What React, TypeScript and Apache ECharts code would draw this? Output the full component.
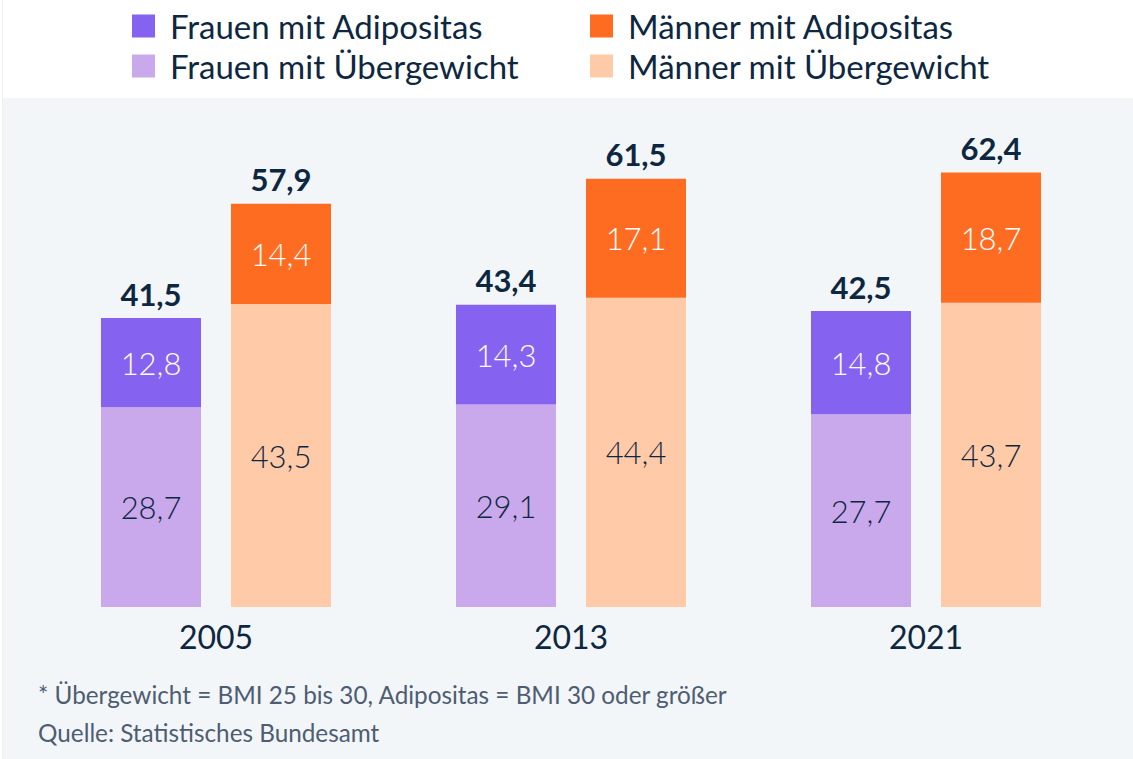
import React, { useEffect, useRef } from "react";
import * as echarts from "echarts";

const years = ["2005", "2013", "2021"];
const frauenUebergewicht = [28.7, 29.1, 27.7];
const frauenAdipositas = [12.8, 14.3, 14.8];
const maennerUebergewicht = [43.5, 44.4, 43.7];
const maennerAdipositas = [14.4, 17.1, 18.7];
const frauenGesamt = [41.5, 43.4, 42.5];
const maennerGesamt = [57.9, 61.5, 62.4];

const footnote = "* Übergewicht = BMI 25 bis 30, Adipositas = BMI 30 oder größer";
const source = "Quelle: Statistisches Bundesamt";

const NAVY = "#0e2741";
const FONT = "Lato, 'Open Sans', sans-serif";
const fmt = (v: number) => v.toFixed(1).replace(".", ",");

export default function App() {
  const ref = useRef<HTMLDivElement>(null);
  useEffect(() => {
    document.body.style.margin = "0";
    const chart = echarts.init(ref.current!, null, { renderer: "svg" });
    const segLabel = (color: string) => ({
      show: true,
      position: "inside" as const,
      color,
      fontSize: 31,
      fontWeight: 300,
      fontFamily: FONT,
      formatter: (p: any) => fmt(p.value),
    });
    const totalLabel = (totals: number[]) => ({
      show: true,
      position: "top" as const,
      distance: 9,
      color: NAVY,
      fontSize: 31,
      fontWeight: "bold" as const,
      fontFamily: FONT,
      formatter: (p: any) => fmt(totals[p.dataIndex]),
    });
    const legendBase = {
      orient: "vertical" as const,
      top: 9.5,
      padding: 0,
      itemWidth: 23,
      itemHeight: 23,
      itemGap: 7,
      icon: "rect",
      selectedMode: false,
      textStyle: {
        fontSize: 33,
        color: NAVY,
        fontFamily: FONT,
        padding: [0, 0, 0, 10],
      },
    };
    chart.setOption({
      animation: false,
      backgroundColor: "#ffffff",
      graphic: [
        { type: "rect", z: -10, shape: { x: 2, y: 98, width: 1131, height: 661 }, style: { fill: "#f2f6f9" } },
        { type: "line", z: -9, shape: { x1: 2.5, y1: 0, x2: 2.5, y2: 759 }, style: { stroke: "#eceff2", lineWidth: 1 } },
        { type: "text", left: 38, top: 682, style: { text: footnote, fontSize: 24.3, fill: "#4e5d72", fontFamily: FONT } },
        { type: "text", left: 38, top: 720, style: { text: source, fontSize: 24.3, fill: "#4e5d72", fontFamily: FONT } },
      ],
      legend: [
        { ...legendBase, left: 132, data: ["Frauen mit Adipositas", "Frauen mit Übergewicht"] },
        { ...legendBase, left: 590, data: ["Männer mit Adipositas", "Männer mit Übergewicht"] },
      ],
      grid: { left: 38.5, right: 29.5, top: 119.6, bottom: 152 },
      xAxis: {
        type: "category",
        data: years,
        axisLine: { show: false },
        axisTick: { show: false },
        axisLabel: { fontSize: 32, color: NAVY, fontFamily: FONT, margin: 13 },
      },
      yAxis: { type: "value", min: 0, max: 70, show: false, splitLine: { show: false } },
      series: [
        {
          name: "Frauen mit Übergewicht", type: "bar", stack: "f", barWidth: 100, barGap: "30%",
          itemStyle: { color: "#c9a9ec" }, label: segLabel(NAVY), data: frauenUebergewicht,
        },
        {
          name: "Frauen mit Adipositas", type: "bar", stack: "f", barWidth: 100, barGap: "30%",
          itemStyle: { color: "#8662f0" }, label: segLabel("#ffffff"), data: frauenAdipositas,
        },
        {
          name: "Frauen gesamt", type: "bar", stack: "f", barWidth: 100, barGap: "30%",
          itemStyle: { color: "transparent" }, label: totalLabel(frauenGesamt), data: frauenGesamt.map(() => 0),
        },
        {
          name: "Männer mit Übergewicht", type: "bar", stack: "m", barWidth: 100, barGap: "30%",
          itemStyle: { color: "#ffcaa8" }, label: segLabel(NAVY), data: maennerUebergewicht,
        },
        {
          name: "Männer mit Adipositas", type: "bar", stack: "m", barWidth: 100, barGap: "30%",
          itemStyle: { color: "#fe6c22" }, label: segLabel("#ffffff"), data: maennerAdipositas,
        },
        {
          name: "Männer gesamt", type: "bar", stack: "m", barWidth: 100, barGap: "30%",
          itemStyle: { color: "transparent" }, label: totalLabel(maennerGesamt), data: maennerGesamt.map(() => 0),
        },
      ],
    });
    return () => chart.dispose();
  }, []);
  return <div ref={ref} style={{ width: 1133, height: 759 }} />;
}
